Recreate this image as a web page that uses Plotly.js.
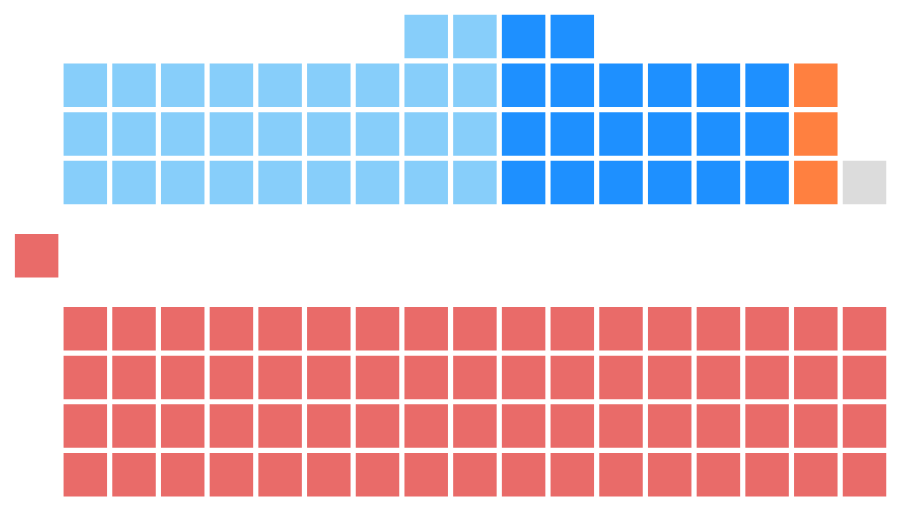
<!DOCTYPE html>
<html>
<head>
<meta charset="utf-8">
<script src="https://cdn.plot.ly/plotly-3.0.1.min.js"></script>
<style>html,body{margin:0;padding:0;background:#fff;}#chart{width:902px;height:512px;}</style>
</head>
<body>
<div id="chart"></div>
<script>
// Data
const parties = ['Party A', 'Party B', 'Party C', 'Party D', 'Party E'];
const seats = [29, 20, 3, 1, 69];
const colors = ['#87CEFA', '#1E90FF', '#FF8040', '#DCDCDC', '#E96B69'];
const groups = ['top', 'top', 'top', 'top', 'bottom'];

// Layout of the seat grid (derived from counts)
const TOP_ROWS = 3, BOTTOM_ROWS = 4, BOTTOM_COLS = 17;
function place() {
  const out = parties.map(() => ({x: [], y: []}));
  let c = 0, topIdx = 0;
  parties.forEach((p, i) => {
    const n = seats[i];
    if (groups[i] === 'top') {
      const full = Math.floor(n / TOP_ROWS), rem = n % TOP_ROWS;
      for (let k = 0; k < full; k++)
        for (let r = 1; r <= TOP_ROWS; r++) { out[i].x.push(c + k); out[i].y.push(r); }
      if (full === 0) {
        for (let k = 0; k < rem; k++) { out[i].x.push(c); out[i].y.push(TOP_ROWS - k); }
        c += 1;
      } else {
        for (let k = 0; k < rem; k++) {
          const col = topIdx === 0 ? c + full - rem + k : c + k;
          out[i].x.push(col); out[i].y.push(0);
        }
        c += full;
      }
      topIdx++;
    } else {
      const full = BOTTOM_ROWS * BOTTOM_COLS;
      for (let k = 0; k < Math.min(n, full); k++) {
        out[i].x.push(k % BOTTOM_COLS);
        out[i].y.push(6 + Math.floor(k / BOTTOM_COLS));
      }
      for (let k = full; k < n; k++) { out[i].x.push(-1 - (k - full)); out[i].y.push(4.5); }
    }
  });
  return out;
}
const pos = place();
const traces = parties.map((p, i) => ({
  type: 'scatter', mode: 'markers', name: p,
  x: pos[i].x, y: pos[i].y,
  marker: {symbol: 'square', size: 43.5, color: colors[i], line: {width: 0}},
  hovertemplate: p + ': ' + seats[i] + '<extra></extra>'
}));
const layout = {
  width: 902, height: 512,
  margin: {l: 0, r: 0, t: 0, b: 0},
  paper_bgcolor: '#fff', plot_bgcolor: '#fff',
  showlegend: false,
  xaxis: {range: [-1.752, 16.77], visible: false, showgrid: false, zeroline: false, fixedrange: true},
  yaxis: {range: [9.764, -0.749], visible: false, showgrid: false, zeroline: false, fixedrange: true}
};
Plotly.newPlot('chart', traces, layout, {displayModeBar: false, staticPlot: true});
</script>
</body>
</html>
